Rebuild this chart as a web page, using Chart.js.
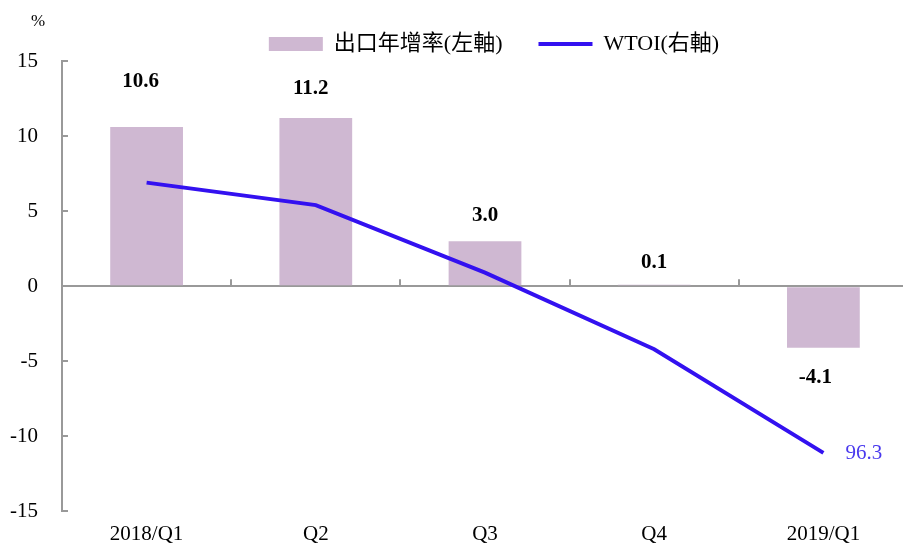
<!DOCTYPE html>
<html>
<head>
<meta charset="utf-8">
<script src="https://cdn.jsdelivr.net/npm/chart.js@4"></script>
<style>
html,body{margin:0;padding:0;background:#fff;overflow:hidden;width:903px;height:545px;}
#wrap{width:908px;height:548px;position:relative;}
</style>
</head>
<body>
<div id="wrap"><canvas id="c"></canvas></div>
<script>
const categories = ['2018/Q1', 'Q2', 'Q3', 'Q4', '2019/Q1'];
const exportGrowth = [10.6, 11.2, 3.0, 0.1, -4.1];
const wtoi = [102.3, 101.8, 100.3, 98.6, 96.3];
const leftTicks = [-15, -10, -5, 0, 5, 10, 15];
const seriesNames = ['出口年增率(左軸)', 'WTOI(右軸)'];

const BAR_COLOR = '#cfb8d2';
const LINE_COLOR = '#3311f0';
const AXIS_COLOR = '#999999';
const SERIF = '"Liberation Serif", "Times New Roman", "Noto Sans CJK TC", serif';

const decorPlugin = {
  id: 'decor',
  afterLayout(chart) {
    const lg = chart.legend;
    if (lg) { lg.left += 40; lg.right += 40; lg.top -= 3; lg.bottom -= 3; }
  },
  afterDatasetsDraw(chart, args, opts) {
    const ctx = chart.ctx;
    const y = chart.scales.y, x = chart.scales.x;
    const area = chart.chartArea;
    ctx.save();
    ctx.strokeStyle = AXIS_COLOR;
    ctx.lineWidth = 2;
    leftTicks.forEach(v => {
      const py = Math.round(y.getPixelForValue(v));
      ctx.beginPath();
      ctx.moveTo(area.left, py);
      ctx.lineTo(area.left + 6, py);
      ctx.stroke();
    });
    const zy = y.getPixelForValue(0);
    for (let i = 0; i < categories.length - 1; i++) {
      const bx = Math.round((x.getPixelForTick(i) + x.getPixelForTick(i + 1)) / 2);
      ctx.beginPath();
      ctx.moveTo(bx, zy);
      ctx.lineTo(bx, zy - 7);
      ctx.stroke();
    }
    const meta = chart.getDatasetMeta(0);
    ctx.fillStyle = '#000';
    ctx.font = 'bold 21px ' + SERIF;
    ctx.textAlign = 'center';
    ctx.textBaseline = 'middle';
    const offs = opts.offsets;
    meta.data.forEach((bar, i) => {
      const v = exportGrowth[i];
      const ly = v >= 0 ? bar.y - offs[i] : bar.y + offs[i];
      ctx.fillText(v.toFixed(1), bar.x + opts.dx[i], ly);
    });
    const lmeta = chart.getDatasetMeta(1);
    const last = lmeta.data[lmeta.data.length - 1];
    ctx.fillStyle = '#4a3aee';
    ctx.font = '21px ' + SERIF;
    ctx.textAlign = 'left';
    ctx.fillText(wtoi[wtoi.length - 1].toFixed(1), last.x + 22, last.y + 1);
    ctx.fillStyle = '#000';
    ctx.font = '17px ' + SERIF;
    ctx.textAlign = 'center';
    ctx.fillText('%', 38, area.top - 39);
    ctx.restore();
  }
};

const legendFit = {
  id: 'legendFit',
  beforeInit(chart) {
    const orig = chart.legend.fit;
    chart.legend.fit = function () {
      orig.bind(chart.legend)();
      this.height = 61;
    };
  }
};

new Chart(document.getElementById('c'), {
  data: {
    labels: categories,
    datasets: [
      {
        type: 'bar',
        label: seriesNames[0],
        data: exportGrowth,
        backgroundColor: BAR_COLOR,
        borderWidth: 0,
        barPercentage: 0.43,
        categoryPercentage: 1.0,
        yAxisID: 'y',
        order: 1
      },
      {
        type: 'line',
        label: seriesNames[1],
        data: wtoi,
        borderColor: LINE_COLOR,
        backgroundColor: LINE_COLOR,
        borderWidth: 4,
        pointRadius: 0,
        pointHoverRadius: 0,
        pointBorderWidth: 0,
        pointHoverBorderWidth: 0,
        tension: 0,
        yAxisID: 'y1',
        order: 0
      }
    ]
  },
  options: {
    responsive: true,
    maintainAspectRatio: false,
    animation: false,
    layout: { padding: 0 },
    plugins: {
      tooltip: { enabled: false },
      decor: { offsets: [45, 29, 26, 22, 30], dx: [-6, -5, 0, 0, -8] },
      legend: {
        position: 'top',
        align: 'center',
        labels: {
          usePointStyle: true,
          pointStyleWidth: 54,
          boxHeight: 14,
          padding: 36,
          color: '#000',
          font: { family: SERIF, size: 22 },
          generateLabels(chart) {
            return [
              { text: seriesNames[0], fillStyle: BAR_COLOR, strokeStyle: BAR_COLOR, lineWidth: 0, pointStyle: 'rect', datasetIndex: 0, fontColor: '#000' },
              { text: seriesNames[1], fillStyle: LINE_COLOR, strokeStyle: LINE_COLOR, lineWidth: 4, pointStyle: 'line', datasetIndex: 1, fontColor: '#000' }
            ];
          }
        }
      }
    },
    scales: {
      x: {
        offset: true,
        grid: { display: false, drawTicks: false },
        border: { display: false },
        ticks: { color: '#000', font: { family: SERIF, size: 21 }, padding: 10, maxRotation: 0 },
        afterFit(s) { s.height = 32; }
      },
      y: {
        position: 'left',
        min: -15, max: 15,
        afterBuildTicks(s) { s.ticks = leftTicks.map(v => ({ value: v })); },
        grid: {
          drawTicks: false,
          color: c => (c.tick && c.tick.value === 0 ? AXIS_COLOR : 'rgba(0,0,0,0)'),
          lineWidth: 2
        },
        border: { display: true, color: AXIS_COLOR, width: 2 },
        ticks: { color: '#000', font: { family: SERIF, size: 21 }, padding: 24 },
        afterFit(s) { s.width = 62; }
      },
      y1: {
        position: 'right',
        min: 95, max: 105,
        display: false
      }
    }
  },
  plugins: [legendFit, decorPlugin]
});
</script>
</body>
</html>
